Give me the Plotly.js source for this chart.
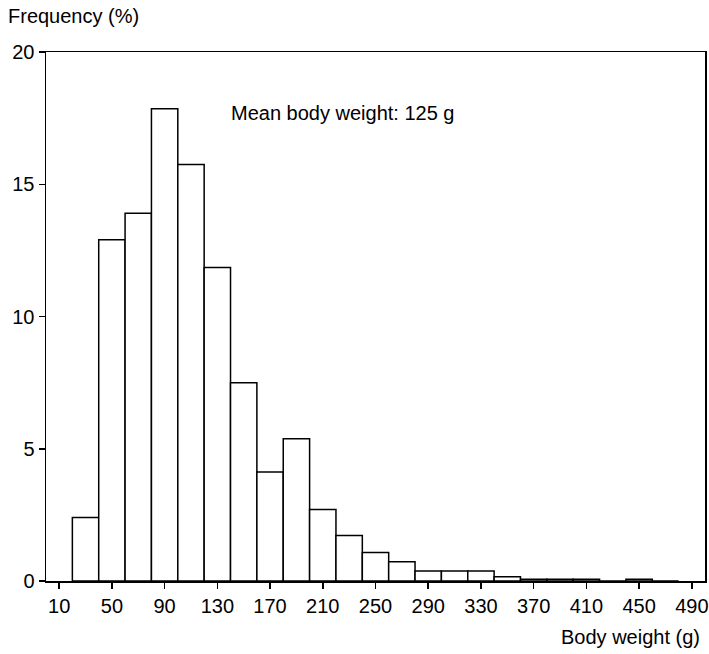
<!DOCTYPE html>
<html>
<head>
<meta charset="utf-8">
<script src="https://cdn.plot.ly/plotly-3.0.1.min.js"></script>
<style>html,body{margin:0;padding:0;background:#fff;}#chart{width:709px;height:654px;}</style>
</head>
<body>
<div id="chart"></div>
<script>
// Bin centers (g), bin width 20
const binCenters = [30, 50, 70, 90, 110, 130, 150, 170, 190, 210, 230, 250, 270, 290, 310, 330, 350, 370, 390, 410, 430, 450, 470];
const frequency  = [2.4, 12.9, 13.9, 17.85, 15.75, 11.85, 7.5, 4.12, 5.38, 2.7, 1.72, 1.08, 0.73, 0.38, 0.38, 0.38, 0.16, 0.07, 0.07, 0.07, 0, 0.07, 0];
const xTicks = [10, 50, 90, 130, 170, 210, 250, 290, 330, 370, 410, 450, 490];
const yTicks = [0, 5, 10, 15, 20];

const font = {family: 'Liberation Sans, Arial, sans-serif', size: 20, color: '#000'};

const trace = {
  type: 'bar',
  x: binCenters,
  y: frequency,
  width: 20,
  marker: {color: '#fff', line: {color: '#000', width: 1.5}},
  hoverinfo: 'skip'
};

const layout = {
  width: 709, height: 654,
  margin: {l: 46, r: 4, t: 52, b: 73},
  paper_bgcolor: '#fff', plot_bgcolor: '#fff',
  font: font,
  showlegend: false,
  bargap: 0,
  xaxis: {
    range: [0, 500],
    tickvals: xTicks, ticktext: xTicks.map(String),
    ticks: 'outside', ticklen: 6, tickwidth: 1.5, tickcolor: '#000',
    showline: true, linecolor: '#000', linewidth: 1.5, mirror: true,
    showgrid: false, zeroline: false,
    tickfont: font
  },
  yaxis: {
    range: [0, 20],
    tickvals: yTicks, ticktext: yTicks.map(String),
    ticks: 'outside', ticklen: 6, tickwidth: 1.5, tickcolor: '#000',
    showline: true, linecolor: '#000', linewidth: 1.5, mirror: true,
    showgrid: false, zeroline: false,
    tickfont: font
  },
  annotations: [
    {text: 'Frequency (%)', xref: 'paper', yref: 'paper', x: -0.061, y: 1.068, xanchor: 'left', yanchor: 'middle', showarrow: false, font: font},
    {text: 'Body weight (g)', xref: 'paper', yref: 'paper', x: 0.995, y: -0.106, xanchor: 'right', yanchor: 'middle', showarrow: false, font: font},
    {text: 'Mean body weight: 125 g', xref: 'x', yref: 'y', x: 139, y: 17.7, xanchor: 'left', yanchor: 'middle', showarrow: false, font: font}
  ]
};

Plotly.newPlot('chart', [trace], layout, {staticPlot: true, displayModeBar: false});
</script>
</body>
</html>
